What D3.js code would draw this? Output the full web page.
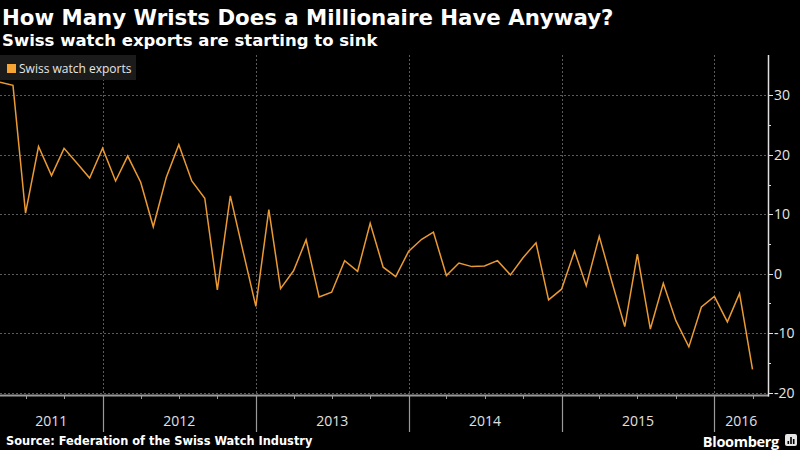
<!DOCTYPE html>
<html>
<head>
<meta charset="utf-8">
<script src="https://cdn.jsdelivr.net/npm/d3@7"></script>
<style>
  html, body { margin: 0; padding: 0; background: #000; }
  svg { display: block; }
</style>
</head>
<body>
<svg id="chart" width="800" height="450"></svg>
<script>
// ---- data ----
const startMonth = "2011-05";
const values = [
  32.2, 31.7, 10.2, 21.4, 16.5, 21.1, 18.6, 16.1,
  21.1, 15.6, 19.8, 15.4, 7.9, 16.2, 21.7, 15.6, 12.7, -2.7, 13.1, 3.9,
  -5.5, 10.8, -2.5, 0.5, 5.7, -3.9, -3.1, 2.2, 0.4, 8.5, 1.1, -0.5,
  3.8, 5.8, 7.0, -0.3, 1.8, 1.2, 1.3, 2.2, -0.2, 2.7, 5.2, -4.4,
  -2.6, 3.8, -2.0, 6.3, -1.3, -8.9, 3.3, -9.3, -1.6, -7.9, -12.3, -5.6,
  -3.8, -8.1, -3.3, -16.1
];
const yTicks = [30, 20, 10, 0, -10, -20];
const yMinorTicks = [25, 15, 5, -5, -15];
const yearLabels = ["2011", "2012", "2013", "2014", "2015", "2016"];
const seriesName = "Swiss watch exports";
const title = "How Many Wrists Does a Millionaire Have Anyway?";
const subtitle = "Swiss watch exports are starting to sink";
const source = "Source: Federation of the Swiss Watch Industry";

// ---- build dated rows ----
const parseMonth = d3.timeParse("%Y-%m");
const first = parseMonth(startMonth);
const rows = values.map((v, i) => ({ date: d3.timeMonth.offset(first, i), value: v }));

const svg = d3.select("#chart");
const W = 800, H = 450;
const plot = { left: 0, right: 768, top: 55, bottom: 395 };

svg.append("rect").attr("width", W).attr("height", H).attr("fill", "#000");

const x = d3.scaleTime()
  .domain([first, new Date(2016, 4, 8)])
  .range([plot.left, plot.right]);
const y = d3.scaleLinear()
  .domain([-20.4, 36.8])
  .range([plot.bottom, plot.top]);

const years = yearLabels.map(s => new Date(+s, 0, 1));

// horizontal gridlines
svg.append("g").selectAll("line").data(yTicks).join("line")
  .attr("x1", plot.left).attr("x2", plot.right)
  .attr("y1", d => Math.round(y(d)) + 0.5).attr("y2", d => Math.round(y(d)) + 0.5)
  .attr("stroke", "#5a5a5a").attr("stroke-width", 1).attr("stroke-dasharray", "2,2");

// vertical year gridlines
svg.append("g").selectAll("line").data(years.filter(d => x(d) > plot.left)).join("line")
  .attr("x1", d => Math.round(x(d)) + 0.5).attr("x2", d => Math.round(x(d)) + 0.5)
  .attr("y1", plot.top).attr("y2", plot.bottom)
  .attr("stroke", "#5a5a5a").attr("stroke-width", 1).attr("stroke-dasharray", "2,2");

// legend
const lg = svg.append("g");
lg.append("rect").attr("x", 0).attr("y", 55).attr("width", 136).attr("height", 25).attr("fill", "#1b1b1b");
lg.append("rect").attr("x", 7).attr("y", 64).attr("width", 9).attr("height", 9).attr("fill", "#f6a532");
lg.append("text").attr("x", 19).attr("y", 73)
  .attr("font-family", "'Open Sans', 'DejaVu Sans', sans-serif").attr("font-size", 12)
  .attr("fill", "#e6e6e6").text(seriesName);

// line
const line = d3.line().x(d => x(d.date)).y(d => y(d.value));
svg.append("path").datum(rows)
  .attr("d", line).attr("fill", "none")
  .attr("stroke", "#eb9a33").attr("stroke-width", 1.5).attr("stroke-linejoin", "miter");

// bottom axis
const xAxis = svg.append("g");
xAxis.append("line").attr("x1", 0).attr("x2", plot.right + 1).attr("y1", plot.bottom + 0.5).attr("y2", plot.bottom + 0.5)
  .attr("stroke", "#9a9a9a").attr("stroke-width", 2);
const quarters = d3.timeMonth.every(3).range(new Date(2011, 6, 1), x.domain()[1]);
xAxis.selectAll("line.q").data(quarters.filter(d => d.getMonth() !== 0)).join("line")
  .attr("class", "q")
  .attr("x1", d => Math.round(x(d)) + 0.5).attr("x2", d => Math.round(x(d)) + 0.5)
  .attr("y1", plot.bottom).attr("y2", plot.bottom + 4)
  .attr("stroke", "#9a9a9a").attr("stroke-width", 1);
xAxis.selectAll("line.yr").data(years.filter(d => x(d) > plot.left)).join("line")
  .attr("class", "yr")
  .attr("x1", d => Math.round(x(d)) + 0.5).attr("x2", d => Math.round(x(d)) + 0.5)
  .attr("y1", plot.bottom).attr("y2", 432)
  .attr("stroke", "#9a9a9a").attr("stroke-width", 1.2);
xAxis.selectAll("text").data(years).join("text")
  .attr("x", d => {
    const a = Math.max(x(d), plot.left);
    const b = Math.min(x(d3.timeYear.offset(d, 1)), plot.right);
    return (a + b) / 2;
  })
  .attr("y", 426).attr("text-anchor", "middle")
  .attr("font-family", "'Open Sans', 'DejaVu Sans', sans-serif").attr("font-size", 14)
  .attr("fill", "#e0e0e0").text((d, i) => yearLabels[i]);

// right axis
const yAxis = svg.append("g");
yAxis.append("line").attr("x1", plot.right + 0.5).attr("x2", plot.right + 0.5)
  .attr("y1", plot.top).attr("y2", plot.bottom + 1.5)
  .attr("stroke", "#e0e0e0").attr("stroke-width", 1.5);
yAxis.selectAll("line.maj").data(yTicks).join("line").attr("class", "maj")
  .attr("x1", plot.right).attr("x2", plot.right + 5)
  .attr("y1", d => Math.round(y(d)) + 0.5).attr("y2", d => Math.round(y(d)) + 0.5)
  .attr("stroke", "#e0e0e0").attr("stroke-width", 1);
yAxis.selectAll("line.min").data(yMinorTicks).join("line").attr("class", "min")
  .attr("x1", plot.right).attr("x2", plot.right + 3)
  .attr("y1", d => Math.round(y(d)) + 0.5).attr("y2", d => Math.round(y(d)) + 0.5)
  .attr("stroke", "#e0e0e0").attr("stroke-width", 1);
yAxis.selectAll("text").data(yTicks).join("text")
  .attr("x", plot.right + 6).attr("y", d => y(d) + 5)
  .attr("font-family", "'Open Sans', 'DejaVu Sans', sans-serif").attr("font-size", 14)
  .attr("fill", "#e6e6e6").text(d => d);

// titles
svg.append("text").attr("x", 2).attr("y", 25)
  .attr("font-family", "'DejaVu Sans', sans-serif").attr("font-weight", "bold").attr("font-size", 21.3)
  .attr("fill", "#fff").text(title);
svg.append("text").attr("x", 2).attr("y", 46)
  .attr("font-family", "'DejaVu Sans', sans-serif").attr("font-weight", "bold").attr("font-size", 16.5)
  .attr("fill", "#fff").text(subtitle);
svg.append("text").attr("x", 6).attr("y", 445)
  .attr("font-family", "'DejaVu Sans', sans-serif").attr("font-weight", "bold").attr("font-size", 11.4)
  .attr("fill", "#fff").text(source);

// Bloomberg mark
const bb = svg.append("g");
bb.append("text").attr("x", 779).attr("y", 446.5).attr("text-anchor", "end")
  .attr("font-family", "'Open Sans', 'DejaVu Sans', sans-serif").attr("font-weight", "bold").attr("font-size", 14.5)
  .attr("fill", "#fff").attr("letter-spacing", -0.3).text("Bloomberg");
bb.append("rect").attr("x", 785).attr("y", 434).attr("width", 12).attr("height", 12).attr("rx", 2).attr("fill", "#e6e6e6");
bb.append("path").attr("d", "M787.5,441 h1.6 v3 h-1.6 Z M790.2,437 h1.6 v7 h-1.6 Z M792.9,439 h1.6 v5 h-1.6 Z").attr("fill", "#000");
</script>
</body>
</html>
